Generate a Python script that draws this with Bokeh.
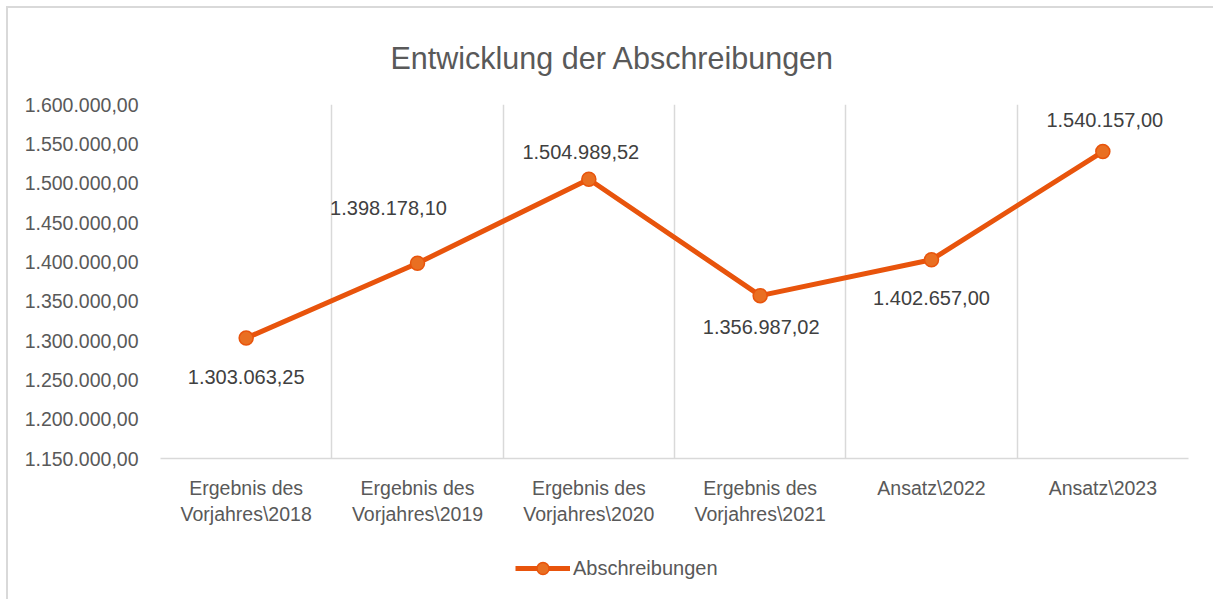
from bokeh.plotting import figure
from bokeh.layouts import column
from bokeh.models import FixedTicker, Legend, LegendItem, Title, Range1d
from bokeh.core.properties import value
from bokeh.embed import file_html
from bokeh.resources import INLINE

categories = ["Ergebnis des\nVorjahres\\2018", "Ergebnis des\nVorjahres\\2019", "Ergebnis des\nVorjahres\\2020",
              "Ergebnis des\nVorjahres\\2021", "Ansatz\\2022", "Ansatz\\2023"]
values = [1303063.25, 1398178.10, 1504989.52, 1356987.02, 1402657.00, 1540157.00]
y_ticks = [1150000, 1200000, 1250000, 1300000, 1350000, 1400000, 1450000, 1500000, 1550000, 1600000]
series_name = "Abschreibungen"

# label placement (screen offsets, px)
lab_dx = [0, -29, -8, 1, 0, 2]
lab_dy = [39, -55, -27, 31, 38, -32]

FONT = "Liberation Sans"
GREY = "#595959"
LINE_C = "#E8540C"
MARK_C = "#E96F22"

def de_fmt(v):
    s = f"{v:,.2f}"
    return s.replace(",", "X").replace(".", ",").replace("X", ".")

xs = [i + 0.5 for i in range(len(categories))]
labels = [de_fmt(v) for v in values]

W, H = 1205, 535
p = figure(width=W, height=H, output_backend="svg", toolbar_location=None,
           x_range=Range1d(0, len(categories)), y_range=Range1d(1150000, 1600000),
           min_border_left=152, min_border_right=25, min_border_top=96, min_border_bottom=H - 450)
p.outline_line_color = None

p.line(xs, values, line_color=LINE_C, line_width=5)
p.scatter(xs, values, size=14, fill_color=MARK_C, line_color=LINE_C, line_width=1.5)
p.text(xs, values, text=labels, x_offset=lab_dx, y_offset=lab_dy, text_align="center",
       text_baseline="middle", text_font=value(FONT), text_font_size="20px", text_color="#404040")

p.xaxis.ticker = FixedTicker(ticks=xs)
p.xaxis.major_label_overrides = {x: c for x, c in zip(xs, categories)}
p.xaxis.axis_line_color = "#D9D9D9"
p.xaxis.axis_line_width = 1.5
p.xaxis.major_tick_line_color = None
p.xaxis.minor_tick_line_color = None
p.xaxis.major_label_text_font = FONT
p.xaxis.major_label_text_font_size = "19.5px"
p.xaxis.major_label_text_color = GREY
p.xaxis.major_label_standoff = 12

p.yaxis.ticker = FixedTicker(ticks=y_ticks)
p.yaxis.major_label_overrides = {t: de_fmt(t) for t in y_ticks}
p.yaxis.axis_line_color = None
p.yaxis.major_tick_line_color = None
p.yaxis.minor_tick_line_color = None
p.yaxis.major_label_text_font = FONT
p.yaxis.major_label_text_font_size = "19.5px"
p.yaxis.major_label_text_color = GREY
p.yaxis.major_label_standoff = 16

p.xgrid.ticker = FixedTicker(ticks=list(range(len(categories) + 1)))
p.xgrid.grid_line_color = "#D9D9D9"
p.xgrid.grid_line_width = 1.5
p.ygrid.grid_line_color = None

title = Title(text="Entwicklung der Abschreibungen", align="left", offset=230, standoff=59,
              text_font=FONT, text_font_size="30.5px", text_color=GREY, text_font_style="normal")
p.add_layout(title, "above")

# legend strip (same series, ranges chosen so only the legend swatch shows)
p2 = figure(width=W, height=56, output_backend="svg", toolbar_location=None,
            x_range=Range1d(0, 1), y_range=Range1d(0, 1), min_border=0)
p2.axis.visible = False
p2.grid.visible = False
p2.outline_line_color = None
l2 = p2.line(xs, values, line_color=LINE_C, line_width=5)
s2 = p2.scatter(xs, values, size=14, fill_color=MARK_C, line_color=LINE_C, line_width=1.5)
legend = Legend(items=[LegendItem(label=series_name, renderers=[l2, s2])],
                orientation="horizontal", location=(355, 16), label_text_font=FONT,
                label_text_font_size="20px", label_text_color=GREY, glyph_width=55,
                glyph_height=30, border_line_color=None, background_fill_alpha=0,
                label_standoff=3)
p2.add_layout(legend)

lay = column(p, p2, spacing=0)
lay.styles = {"margin-left": "6px", "margin-top": "6px",
              "border-left": "2px solid #D9D9D9", "border-top": "2px solid #D9D9D9"}

open("out.html", "w").write(file_html(lay, INLINE))
